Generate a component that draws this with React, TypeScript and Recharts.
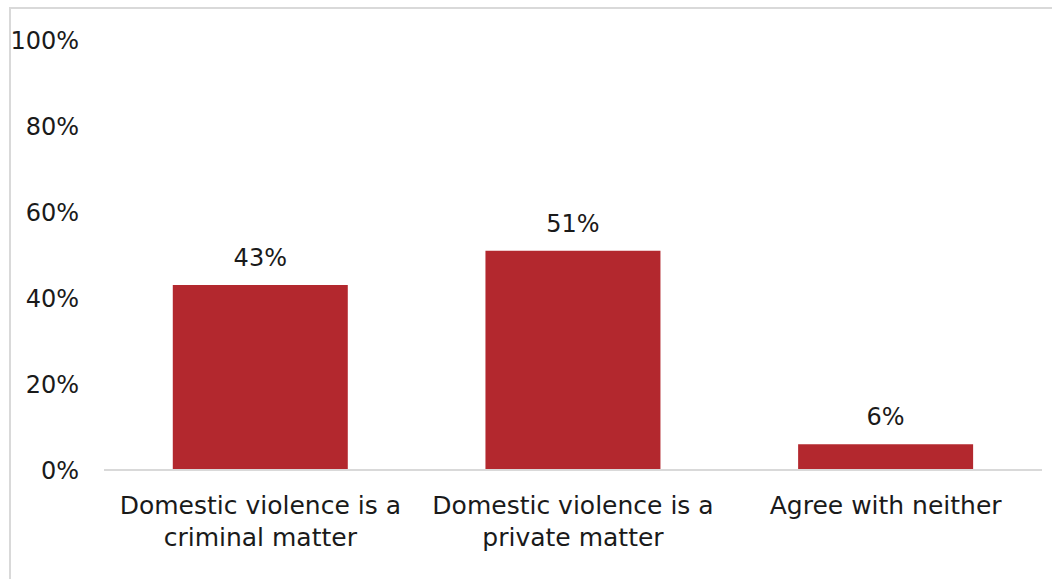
import { BarChart, Bar, XAxis, YAxis, LabelList } from 'recharts';

const categories = [
  'Domestic violence is a\ncriminal matter',
  'Domestic violence is a\nprivate matter',
  'Agree with neither',
];
const shares = [43, 51, 6];
const yTicks = [0, 20, 40, 60, 80, 100];

const data = categories.map((c, i) => ({ name: c, value: shares[i] }));

const FONT = '"DejaVu Sans", sans-serif';

function CategoryTick({ x, y, payload }: any) {
  const lines = String(payload.value).split('\n');
  return (
    <text x={x} y={y} textAnchor="middle" fontFamily={FONT} fontSize={25} fill="#1a1a1a">
      {lines.map((l, i) => (
        <tspan key={i} x={x} dy={i === 0 ? 44 : 32}>
          {l}
        </tspan>
      ))}
    </text>
  );
}

export default function App() {
  return (
    <div style={{ position: 'absolute', left: 0, top: 0, width: 1052, height: 579, overflow: 'hidden', background: '#fff' }}>
      <div
        style={{
          position: 'absolute',
          left: 9,
          top: 7,
          width: 1100,
          height: 620,
          borderTop: '2px solid #d9d9d9',
          borderLeft: '2px solid #d9d9d9',
        }}
      />
      <div style={{ position: 'absolute', left: 0, top: 0 }}>
        <BarChart
          width={1052}
          height={579}
          data={data}
          margin={{ top: 40, right: 10, bottom: 0, left: 0 }}
          barCategoryGap="22%"
        >
          <XAxis
            dataKey="name"
            height={109}
            interval={0}
            tickLine={false}
            tickSize={0}
            tickMargin={0}
            axisLine={{ stroke: '#d9d9d9', strokeWidth: 2 }}
            tick={<CategoryTick />}
          />
          <YAxis
            width={104}
            domain={[0, 100]}
            ticks={yTicks}
            axisLine={false}
            tickLine={false}
            tickSize={0}
            tickMargin={25}
            tickFormatter={(v: number) => `${v}%`}
            tick={{ fontFamily: FONT, fontSize: 24, fill: '#1a1a1a' }}
          />
          <Bar dataKey="value" fill="#b3282e" isAnimationActive={false}>
            <LabelList
              dataKey="value"
              position="top"
              offset={19}
              formatter={(v: number) => `${v}%`}
              style={{ fontFamily: FONT, fontSize: 24, fill: '#1a1a1a' }}
            />
          </Bar>
        </BarChart>
      </div>
    </div>
  );
}
